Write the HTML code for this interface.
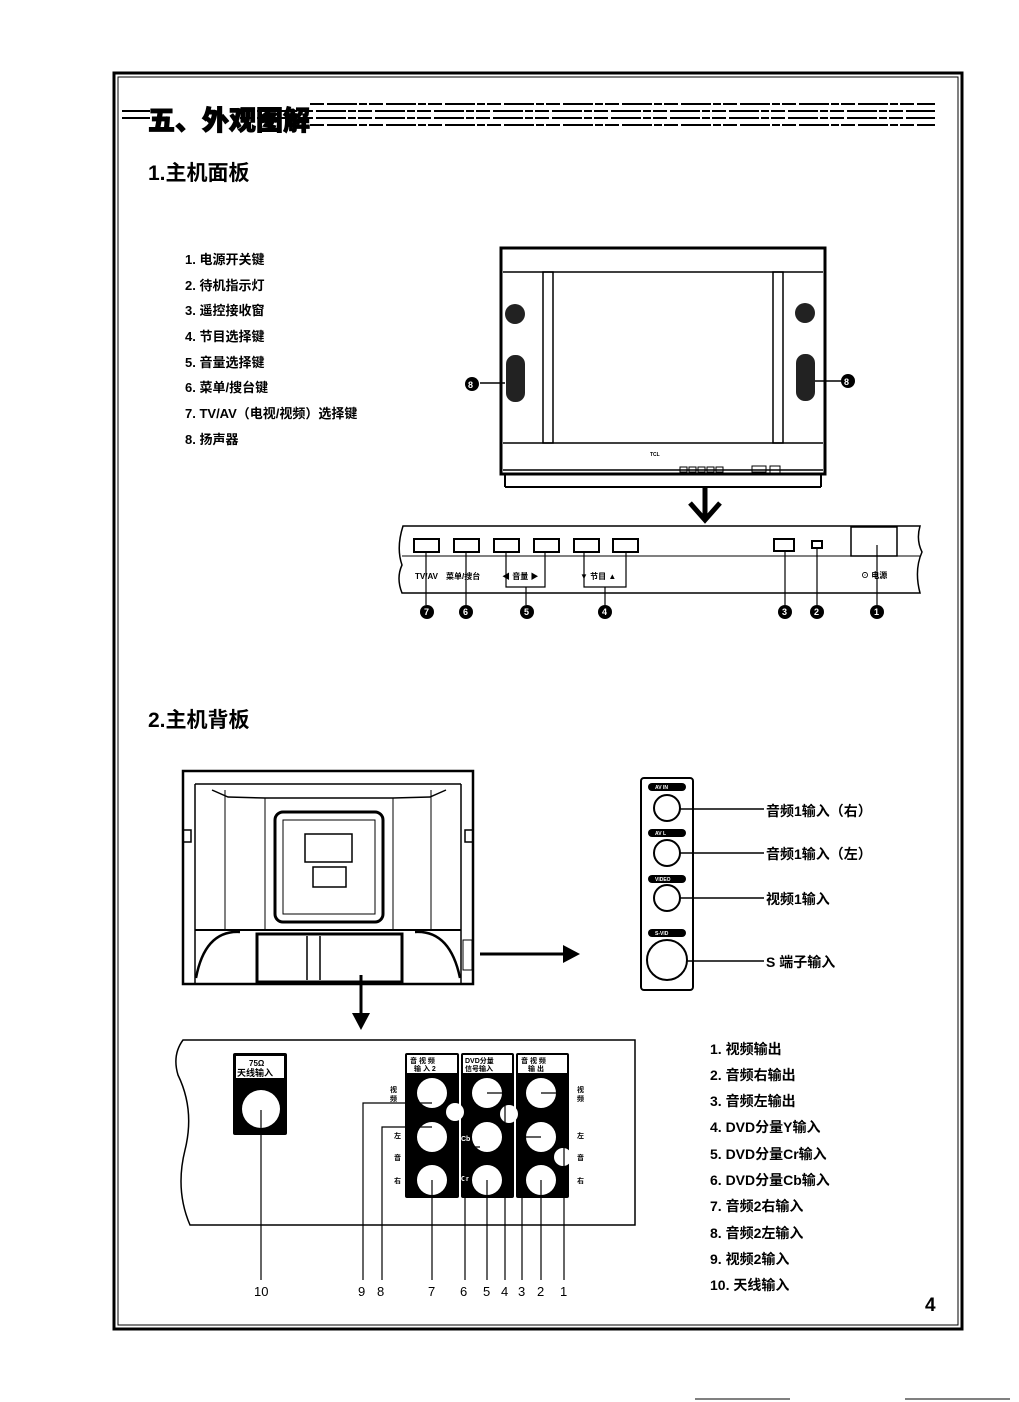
<!DOCTYPE html>
<html><head><meta charset="utf-8"><style>
html,body{margin:0;padding:0;background:#fff;}
svg{display:block;}
text{font-family:"Liberation Sans","Noto Sans CJK SC","WenQuanYi Zen Hei",sans-serif;fill:#000;font-weight:bold;}
</style></head><body>
<svg width="1019" height="1402" viewBox="0 0 1019 1402" xmlns="http://www.w3.org/2000/svg">
<!-- frame -->
<rect x="114" y="73" width="848" height="1256" fill="none" stroke="#000" stroke-width="3"/>
<rect x="118" y="77" width="840" height="1248" fill="none" stroke="#000" stroke-width="1"/>
<!-- title -->
<g stroke="#000" stroke-width="2" stroke-dasharray="14 3 30 2 8 2">
<line x1="310" y1="104" x2="935" y2="104"/>
<line x1="240" y1="111" x2="935" y2="111"/>
<line x1="240" y1="118" x2="935" y2="118"/>
<line x1="310" y1="125" x2="935" y2="125"/>
</g>
<line x1="122" y1="111" x2="150" y2="111" stroke="#000" stroke-width="2"/>
<line x1="122" y1="118" x2="150" y2="118" stroke="#000" stroke-width="2"/>
<text x="148" y="130" font-size="27" style="font-weight:900" stroke="#000" stroke-width="1">五、外观图解</text>
<text x="148" y="180" font-size="21">1.主机面板</text>
<!-- list -->
<g font-size="13">
<text x="185" y="264">1. 电源开关键</text>
<text x="185" y="290">2. 待机指示灯</text>
<text x="185" y="315">3. 遥控接收窗</text>
<text x="185" y="341">4. 节目选择键</text>
<text x="185" y="367">5. 音量选择键</text>
<text x="185" y="392">6. 菜单/搜台键</text>
<text x="185" y="418">7. TV/AV（电视/视频）选择键</text>
<text x="185" y="444">8. 扬声器</text>
</g>
<!-- TV front -->
<g fill="none" stroke="#000">
<rect x="501" y="248" width="324" height="226" stroke-width="3"/>
<line x1="503" y1="272" x2="823" y2="272" stroke-width="1.5"/>
<line x1="503" y1="443" x2="823" y2="443" stroke-width="1.5"/>
<line x1="503" y1="470" x2="823" y2="470" stroke-width="1.5"/>
<rect x="543" y="272" width="10" height="171" stroke-width="1.5"/>
<rect x="773" y="272" width="10" height="171" stroke-width="1.5"/>
<rect x="553" y="272" width="220" height="171" stroke-width="1"/>
<line x1="505" y1="474" x2="505" y2="487" stroke-width="2"/>
<line x1="821" y1="474" x2="821" y2="487" stroke-width="2"/>
<line x1="505" y1="487" x2="821" y2="487" stroke-width="2"/>
</g>
<g fill="#222">
<circle cx="515" cy="314" r="10"/><circle cx="805" cy="313" r="10"/>
<rect x="506" y="355" width="19" height="47" rx="9"/><rect x="796" y="354" width="19" height="47" rx="9"/>
</g>
<g fill="none" stroke="#000" stroke-width="1">
<rect x="680" y="467" width="7" height="5"/><rect x="689" y="467" width="7" height="5"/><rect x="698" y="467" width="7" height="5"/><rect x="707" y="467" width="7" height="5"/><rect x="716" y="467" width="7" height="5"/><rect x="752" y="466" width="14" height="6"/><rect x="770" y="466" width="10" height="7"/>
</g>
<text x="650" y="456" font-size="5">TCL</text>
<line x1="480" y1="383" x2="505" y2="383" stroke="#000" stroke-width="1.5"/>
<line x1="815" y1="381" x2="842" y2="381" stroke="#000" stroke-width="1.5"/>
<circle cx="472" cy="384" r="7" fill="#000"/><text x="468" y="388" font-size="9" style="fill:#fff">8</text>
<circle cx="848" cy="381" r="7" fill="#000"/><text x="844" y="385" font-size="9" style="fill:#fff">8</text>
<!-- big arrow down -->
<line x1="705" y1="488" x2="705" y2="518" stroke="#000" stroke-width="5"/>
<polyline points="690,503 705,520 720,503" fill="none" stroke="#000" stroke-width="5"/>
<!-- panel strip -->
<path d="M403,526 L920,526 Q916,540 922,552 Q914,570 920,593 L402,593 Q396,578 402,565 Q396,548 403,526 Z" fill="none" stroke="#000" stroke-width="1.5"/>
<line x1="402" y1="556" x2="920" y2="556" stroke="#000" stroke-width="1"/>
<g fill="none" stroke="#000" stroke-width="2">
<rect x="414" y="539" width="25" height="13"/><rect x="454" y="539" width="25" height="13"/><rect x="494" y="539" width="25" height="13"/><rect x="534" y="539" width="25" height="13"/><rect x="574" y="539" width="25" height="13"/><rect x="613" y="539" width="25" height="13"/><rect x="774" y="539" width="20" height="12"/><rect x="812" y="541" width="10" height="7"/>
<rect x="851" y="527" width="46" height="29" stroke-width="1.5"/>
</g>
<g font-size="8">
<text x="415" y="579">TV/AV</text><text x="446" y="579">菜单/搜台</text>
<text x="502" y="579">◀  音量  ▶</text><text x="580" y="579">▼   节目   ▲</text>
<text x="861" y="578">⊙ 电源</text>
</g>
<g fill="none" stroke="#000" stroke-width="1.2">
<polyline points="426,552 426,605"/><polyline points="466,552 466,605"/>
<polyline points="506,552 506,587 545,587 545,552"/><line x1="526" y1="587" x2="526" y2="605"/>
<polyline points="584,552 584,587 626,587 626,552"/><line x1="605" y1="587" x2="605" y2="605"/>
<line x1="785" y1="552" x2="785" y2="605"/><line x1="817" y1="548" x2="817" y2="605"/><line x1="877" y1="545" x2="877" y2="605"/>
</g>
<g>
<circle cx="427" cy="612" r="7"/><circle cx="466" cy="612" r="7"/><circle cx="527" cy="612" r="7"/><circle cx="605" cy="612" r="7"/><circle cx="785" cy="612" r="7"/><circle cx="817" cy="612" r="7"/><circle cx="877" cy="612" r="7"/>
</g>
<g font-size="9" style="fill:#fff">
<text x="424" y="615" style="fill:#fff">7</text><text x="463" y="615" style="fill:#fff">6</text><text x="524" y="615" style="fill:#fff">5</text><text x="602" y="615" style="fill:#fff">4</text><text x="782" y="615" style="fill:#fff">3</text><text x="814" y="615" style="fill:#fff">2</text><text x="874" y="615" style="fill:#fff">1</text>
</g>
<text x="148" y="727" font-size="21">2.主机背板</text>
<!-- back TV -->
<g fill="none" stroke="#000">
<rect x="183" y="771" width="290" height="213" stroke-width="2.5"/>
<line x1="195" y1="784" x2="195" y2="984" stroke-width="1.5"/>
<line x1="461" y1="784" x2="461" y2="984" stroke-width="1.5"/>
<line x1="195" y1="784" x2="461" y2="784" stroke-width="1.5"/>
<line x1="225" y1="790" x2="225" y2="930" stroke-width="1"/>
<line x1="431" y1="790" x2="431" y2="930" stroke-width="1"/>
<line x1="265" y1="798" x2="265" y2="930" stroke-width="1"/>
<line x1="393" y1="798" x2="393" y2="930" stroke-width="1"/>
<polyline points="212,790 228,797 265,798 393,798 430,797 446,790" stroke-width="1.5"/>
<rect x="275" y="812" width="108" height="110" rx="8" stroke-width="3"/>
<rect x="283" y="820" width="92" height="94" stroke-width="1"/>
<rect x="305" y="834" width="47" height="28" stroke-width="1.5"/>
<rect x="313" y="867" width="33" height="20" stroke-width="1.5"/>
<line x1="195" y1="930" x2="461" y2="930" stroke-width="2"/>
<rect x="257" y="934" width="145" height="48" stroke-width="3"/>
<line x1="307" y1="936" x2="307" y2="980" stroke-width="1.5"/>
<line x1="320" y1="936" x2="320" y2="980" stroke-width="1.5"/>
<path d="M196,978 Q205,930 240,932" stroke-width="2.5"/>
<path d="M460,978 Q450,930 415,932" stroke-width="2.5"/>
<path d="M183,830 h8 v12 h-8" stroke-width="1.5"/><path d="M473,830 h-8 v12 h8" stroke-width="1.5"/>
</g>
<rect x="463" y="940" width="9" height="30" fill="none" stroke="#000"/>
<!-- arrows -->
<line x1="480" y1="954" x2="566" y2="954" stroke="#000" stroke-width="3"/>
<polygon points="563,945 580,954 563,963" fill="#000"/>
<line x1="361" y1="975" x2="361" y2="1016" stroke="#000" stroke-width="3"/>
<polygon points="352,1013 361,1030 370,1013" fill="#000"/>
<!-- side jack panel -->
<rect x="641" y="778" width="52" height="212" rx="3" fill="none" stroke="#000" stroke-width="2"/>
<g fill="#000"><rect x="648" y="783" width="38" height="8" rx="4"/><rect x="648" y="829" width="38" height="8" rx="4"/><rect x="648" y="875" width="38" height="8" rx="4"/><rect x="648" y="929" width="38" height="8" rx="4"/></g>
<g font-size="5" style="fill:#fff"><text x="655" y="789" style="fill:#fff">AV IN</text><text x="655" y="835" style="fill:#fff">AV L</text><text x="655" y="881" style="fill:#fff">VIDEO</text><text x="655" y="935" style="fill:#fff">S-VID</text></g>
<g fill="#fff" stroke="#000" stroke-width="2"><circle cx="667" cy="808" r="13"/><circle cx="667" cy="853" r="13"/><circle cx="667" cy="898" r="13"/><circle cx="667" cy="960" r="20"/></g>
<g stroke="#000" stroke-width="1.5"><line x1="680" y1="809" x2="764" y2="809"/><line x1="680" y1="853" x2="764" y2="853"/><line x1="680" y1="898" x2="764" y2="898"/><line x1="687" y1="961" x2="764" y2="961"/></g>
<g font-size="14"><text x="766" y="816">音频1输入（右）</text><text x="766" y="859">音频1输入（左）</text><text x="766" y="904">视频1输入</text><text x="766" y="967">S 端子输入</text></g>
<!-- bottom panel -->
<path d="M183,1040 L635,1040 L635,1225 L190,1225 Q175,1190 185,1150 Q195,1110 178,1075 Q172,1055 183,1040 Z" fill="none" stroke="#000" stroke-width="1.5"/>
<rect x="233" y="1053" width="54" height="82" rx="2" fill="#000"/>
<rect x="236" y="1056" width="48" height="22" fill="#fff"/>
<text x="249" y="1066" font-size="8">75Ω</text><text x="237" y="1076" font-size="9">天线输入</text>
<circle cx="261" cy="1109" r="19" fill="#fff"/>
<line x1="261" y1="1110" x2="261" y2="1280" stroke="#000" stroke-width="1.2"/>
<g fill="#000"><rect x="405" y="1053" width="54" height="145" rx="2"/><rect x="461" y="1053" width="53" height="145" rx="2"/><rect x="516" y="1053" width="53" height="145" rx="2"/></g>
<g fill="#fff"><rect x="407" y="1055" width="50" height="18"/><rect x="463" y="1055" width="49" height="18"/><rect x="518" y="1055" width="49" height="18"/></g>
<g font-size="7"><text x="410" y="1063">音 视 频</text><text x="414" y="1071">输 入 2</text><text x="465" y="1063">DVD分量</text><text x="465" y="1071">信号输入</text><text x="521" y="1063">音 视 频</text><text x="528" y="1071">输 出</text></g>
<g fill="#fff"><circle cx="432" cy="1093" r="15"/><circle cx="432" cy="1137" r="15"/><circle cx="432" cy="1180" r="15"/><circle cx="487" cy="1093" r="15"/><circle cx="487" cy="1137" r="15"/><circle cx="487" cy="1180" r="15"/><circle cx="541" cy="1093" r="15"/><circle cx="541" cy="1137" r="15"/><circle cx="541" cy="1180" r="15"/><circle cx="455" cy="1112" r="9"/><circle cx="509" cy="1114" r="9"/><circle cx="563" cy="1157" r="9"/></g>
<g font-size="7"><text x="390" y="1092">视</text><text x="390" y="1101">频</text><text x="394" y="1138">左</text><text x="394" y="1160">音</text><text x="394" y="1183">右</text><text x="577" y="1092">视</text><text x="577" y="1101">频</text><text x="577" y="1138">左</text><text x="577" y="1160">音</text><text x="577" y="1183">右</text><text x="461" y="1141" style="fill:#fff">Cb</text><text x="461" y="1181" style="fill:#fff">Cr</text></g>
<g fill="none" stroke="#000" stroke-width="1.2">
<polyline points="432,1103 420,1103 363,1103 363,1280"/>
<polyline points="432,1127 382,1127 382,1280"/>
<line x1="432" y1="1180" x2="432" y2="1280"/>
<polyline points="480,1147 465,1147 465,1280"/>
<line x1="487" y1="1180" x2="487" y2="1280"/>
<polyline points="487,1093 505,1093 505,1280"/>
<polyline points="541,1137 522,1137 522,1280"/>
<line x1="541" y1="1180" x2="541" y2="1280"/>
<polyline points="541,1093 564,1093 564,1280"/>
</g>
<g font-size="13" style="font-weight:normal"><text x="254" y="1296" style="font-weight:normal">10</text><text x="358" y="1296" style="font-weight:normal">9</text><text x="377" y="1296" style="font-weight:normal">8</text><text x="428" y="1296" style="font-weight:normal">7</text><text x="460" y="1296" style="font-weight:normal">6</text><text x="483" y="1296" style="font-weight:normal">5</text><text x="501" y="1296" style="font-weight:normal">4</text><text x="518" y="1296" style="font-weight:normal">3</text><text x="537" y="1296" style="font-weight:normal">2</text><text x="560" y="1296" style="font-weight:normal">1</text></g>
<g font-size="14">
<text x="710" y="1054">1. 视频输出</text><text x="710" y="1080">2. 音频右输出</text><text x="710" y="1106">3. 音频左输出</text><text x="710" y="1132">4. DVD分量Y输入</text><text x="710" y="1159">5. DVD分量Cr输入</text><text x="710" y="1185">6. DVD分量Cb输入</text><text x="710" y="1211">7. 音频2右输入</text><text x="710" y="1238">8. 音频2左输入</text><text x="710" y="1264">9. 视频2输入</text><text x="710" y="1290">10. 天线输入</text>
</g>
<text x="925" y="1311" font-size="19">4</text>
<line x1="695" y1="1399" x2="790" y2="1399" stroke="#000" stroke-width="1"/>
<line x1="905" y1="1399" x2="1010" y2="1399" stroke="#000" stroke-width="1"/>
</svg>
</body></html>
